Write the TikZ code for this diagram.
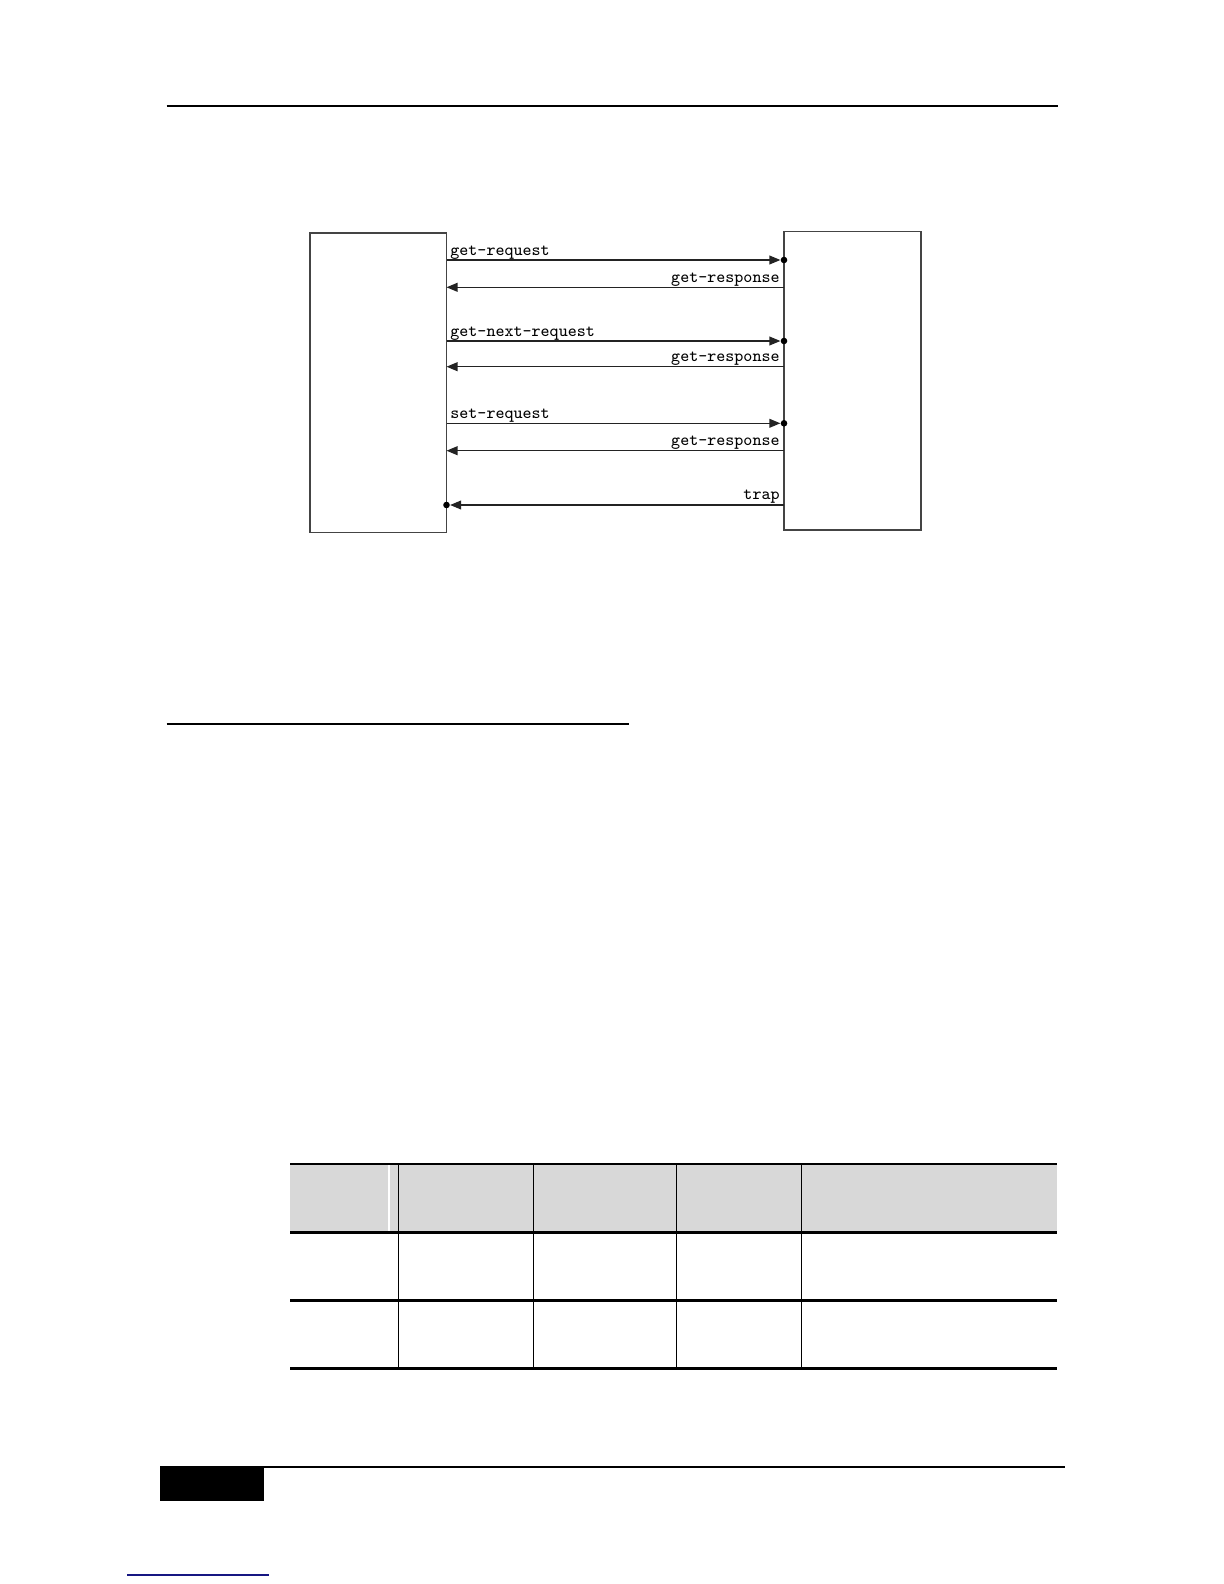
\documentclass[tikz,border=0pt]{standalone}
\usepackage{fontspec}
\usetikzlibrary{arrows.meta}
\definecolor{hdrgray}{RGB}{216,216,216}
\definecolor{linkblue}{RGB}{22,22,130}
\definecolor{scanline}{RGB}{35,35,35}
\begin{document}
\begin{tikzpicture}[x=0.5pt,y=-0.5pt,
  box/.style={draw=scanline!85, line width=0.75pt, inner sep=0pt, outer sep=0pt},
  msg/.style={draw=scanline, line width=0.65pt, -{Triangle[length=5.5pt,width=4.4pt]}},
  lbl/.style={font=\ttfamily\fontsize{8.6}{10}\selectfont, inner sep=0pt, text=black},
  pagerule/.style={line width=1pt},
  tabthick/.style={line width=1.3pt},
  tabthin/.style={line width=0.75pt},
]
\useasboundingbox (0,0) rectangle (1224,1584);
\fill[white] (0,0) rectangle (1224,1584);

% page rules
\draw[pagerule] (166.7,106) -- (1057.7,106);
\draw[pagerule] (166.7,723.5) -- (629,723.5);

% boxes
\node[box, minimum width=68.25pt, minimum height=149.75pt] (mgr) at (378.25,382.75) {};
\node[box, minimum width=68.5pt, minimum height=149.25pt] (agent) at (852.5,380.75) {};

% message rows
\coordinate (r1) at (0,260);
\coordinate (r2) at (0,287.3);
\coordinate (r3) at (0,341);
\coordinate (r4) at (0,366.7);
\coordinate (r5) at (0,423.3);
\coordinate (r6) at (0,450.7);
\coordinate (r7) at (0,505);

% requests
\draw[msg, shorten >=1.8pt] (mgr.east |- r1) -- (agent.west |- r1);
\fill[black] (agent.west |- r1) circle (1.65pt);
\draw[msg, shorten >=1.8pt] (mgr.east |- r3) -- (agent.west |- r3);
\fill[black] (agent.west |- r3) circle (1.65pt);
\draw[msg, shorten >=1.8pt] (mgr.east |- r5) -- (agent.west |- r5);
\fill[black] (agent.west |- r5) circle (1.65pt);

% responses
\draw[msg] (agent.west |- r2) -- (mgr.east |- r2);
\draw[msg] (agent.west |- r4) -- (mgr.east |- r4);
\draw[msg] (agent.west |- r6) -- (mgr.east |- r6);

% trap
\draw[msg, shorten >=1.8pt] (agent.west |- r7) -- (mgr.east |- r7);
\fill[black] (mgr.east |- r7) circle (1.65pt);

% labels
\node[lbl, anchor=base west] (l1) at (450,255) {get-request};
\node[lbl, anchor=base east] (l2) at (780,282) {get-response};
\node[lbl, anchor=base west] (l3) at (450,336) {get-next-request};
\node[lbl, anchor=base east] (l4) at (780,361.5) {get-response};
\node[lbl, anchor=base west] (l5) at (450,418.3) {set-request};
\node[lbl, anchor=base east] (l6) at (780,445.5) {get-response};
\node[lbl, anchor=base east] (l7) at (780,499.5) {trap};

% table
\fill[hdrgray] (290,1164) rectangle (1057,1232.7);
\draw[white, line width=0.7pt] (389,1165) -- (389,1232);
\foreach \xx in {398.7,533.3,676.3,801.7}
  \draw[tabthin] (\xx,1164) -- (\xx,1368.7);
\foreach \yy in {1164,1232.7,1300.7,1368.7}
  \draw[tabthick] (290,\yy) -- (1057,\yy);

% footer
\fill[black] (159.6,1466) rectangle (264,1501);
\draw[pagerule] (264,1466.5) -- (1065,1466.5);
\draw[linkblue, line width=0.65pt] (127.3,1575) -- (269,1575);
\end{tikzpicture}
\end{document}
